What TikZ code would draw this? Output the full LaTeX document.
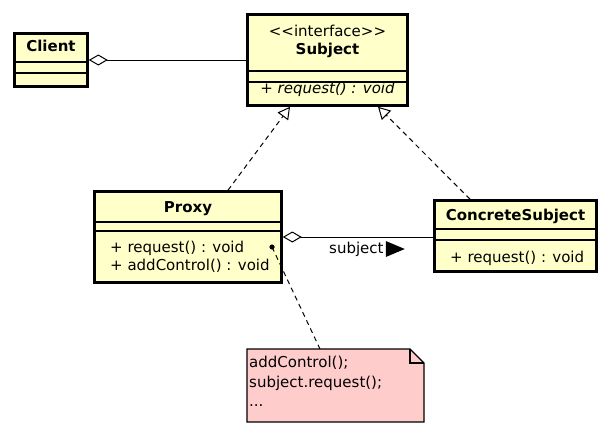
\documentclass[tikz,border=0pt]{standalone}
\usepackage{fontspec}
\setmainfont{DejaVu Sans}
\usetikzlibrary{arrows.meta,calc}
\definecolor{umlyellow}{HTML}{FFFFCA}
\definecolor{notepink}{HTML}{FFCCCC}
\begin{document}
\begin{tikzpicture}[x=1pt,y=-1pt,
  cls/.style={draw, line width=2.6pt, fill=umlyellow, inner sep=0pt, outer sep=1.3pt},
  sepline/.style={line width=1.3pt},
  txt/.style={inner sep=0pt, anchor=base, font=\fontsize{15}{18.5}\selectfont},
  txtl/.style={txt, anchor=base west},
  assoc/.style={line width=1pt},
  realize/.style={line width=1pt, dash pattern=on 5pt off 4pt, -{Triangle[open,length=12pt,width=13pt]}},
  aggr/.style={line width=1pt, {Diamond[open,length=19pt,width=11pt]}-}
]
\useasboundingbox (0,0) rectangle (609,436);

% class boxes
\node[cls, minimum width=73pt, minimum height=53pt] (client) at (51,60) {};
\node[cls, minimum width=160pt, minimum height=91pt] (subject) at (327.5,60) {};
\node[cls, minimum width=187pt, minimum height=91pt] (proxy) at (188,237) {};
\node[cls, minimum width=162pt, minimum height=71pt] (concrete) at (515.5,236) {};

% compartments
\draw[sepline] (client.west |- 0,62) -- (client.east |- 0,62);
\draw[sepline] (client.west |- 0,73) -- (client.east |- 0,73);
\draw[sepline] (subject.west |- 0,71) -- (subject.east |- 0,71);
\draw[sepline] (subject.west |- 0,82) -- (subject.east |- 0,82);
\draw[sepline] (proxy.west |- 0,222) -- (proxy.east |- 0,222);
\draw[sepline] (proxy.west |- 0,231) -- (proxy.east |- 0,231);
\draw[sepline] (concrete.west |- 0,229) -- (concrete.east |- 0,229);
\draw[sepline] (concrete.west |- 0,240) -- (concrete.east |- 0,240);

% texts
\node[txt] (tclient) at (51,52) {\bfseries Client};
\node[txt] (tstereo) at (327.5,37) {<{}<interface>{}>};
\node[txt] (tsubject) at (327.5,54) {\bfseries Subject};
\node[txt] (tsreq) at (327.5,93) {\itshape + request() : void};
\node[txt] (tproxy) at (188,212) {\bfseries Proxy};
\node[txtl] (tpreq) at (110,252) {+ request() : void};
\node[txtl] (tpadd) at (110,270) {+ addControl() : void};
\node[txt] (tconcrete) at (515.5,220) {\bfseries ConcreteSubject};
\node[txtl] (tcreq) at (450,262) {+ request() : void};

% note
\node[minimum width=177pt, minimum height=73pt, inner sep=0pt, outer sep=0pt] (note) at (335.5,385.5) {};
\filldraw[fill=notepink, line width=1.1pt, line join=miter]
  (note.north west) -- ([xshift=-14pt]note.north east) -- ([yshift=-14pt]note.north east)
  -- (note.south east) -- (note.south west) -- cycle;
\draw[line width=1.1pt] ([xshift=-14pt]note.north east) -- ([xshift=-14pt,yshift=-14pt]note.north east) -- ([yshift=-14pt]note.north east);
\node[txtl] (n1) at (249,367) {addControl();};
\node[txtl] (n2) at (249,387) {subject.request();};
\node[txtl] (n3) at (249,406) {...};

% connectors
\draw[aggr] (client.east) -- (client.east -| subject.west);
\draw[aggr] (proxy.east) -- (proxy.east -| concrete.west);
\draw[realize] ([xshift=40pt]proxy.north) -- ([xshift=-37.5pt]subject.south);
\draw[realize] ([xshift=-45.5pt]concrete.north) -- ([xshift=50.5pt]subject.south);

% association label
\node[txtl] (lbl) at (329,253) {subject};
\fill ([xshift=2pt,yshift=12pt]lbl.base east) -- ([xshift=2pt,yshift=-4pt]lbl.base east) -- ([xshift=21pt,yshift=4pt]lbl.base east) -- cycle;

% note anchor
\coordinate (dot) at (272,247);
\fill (dot) circle (2.6pt);
\draw[line width=1pt, dash pattern=on 5pt off 4pt] (dot) -- ([xshift=-15.5pt]note.north);
\end{tikzpicture}
\end{document}
